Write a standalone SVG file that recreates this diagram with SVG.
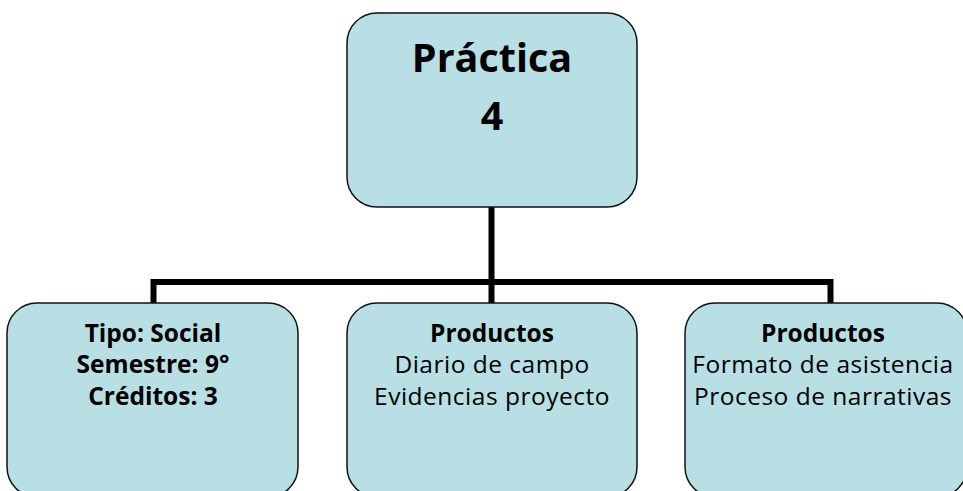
<svg xmlns="http://www.w3.org/2000/svg" width="963" height="491" viewBox="0 0 963 491">
<style>
.box{fill:#B8DFE3;stroke:#111;stroke-width:1.5}
.conn{fill:none;stroke:#000;stroke-width:6;stroke-linejoin:miter;stroke-linecap:butt}
text{font-family:"Open Sans",Lato,"Liberation Sans",sans-serif;fill:#000;text-anchor:middle;font-variant-ligatures:none}
.t{font-size:39.5px;font-weight:bold}
.b{font-size:24.5px;font-weight:bold}
.r{font-size:24.5px;letter-spacing:0.5px}
</style>
<rect width="963" height="491" fill="#fff"/>
<g id="connectors">
<path class="conn" d="M491.5 207V303"/>
<path class="conn" d="M153.5 303V282H830.5V303"/>
</g>
<g id="practica">
<rect class="box" x="347" y="13" width="290" height="194" rx="30" ry="30"/>
<text class="t" x="492" y="72">Práctica</text>
<text class="t" x="492" y="130">4</text>
</g>
<g id="tipo">
<rect class="box" x="7" y="303" width="291" height="194" rx="30" ry="30"/>
<text class="b" x="153" y="342">Tipo: Social</text>
<text class="b" x="153" y="373">Semestre: 9°</text>
<text class="b" x="153" y="405">Créditos: 3</text>
</g>
<g id="productos1">
<rect class="box" x="347" y="303" width="290" height="194" rx="30" ry="30"/>
<text class="b" x="492" y="342">Productos</text>
<text class="r" x="492" y="373">Diario de campo</text>
<text class="r" x="492" y="405">Evidencias proyecto</text>
</g>
<g id="productos2">
<rect class="box" x="685" y="303" width="282" height="194" rx="30" ry="30"/>
<text class="b" x="823" y="342">Productos</text>
<text class="r" x="823" y="373">Formato de asistencia</text>
<text class="r" x="823" y="405">Proceso de narrativas</text>
</g>
</svg>
